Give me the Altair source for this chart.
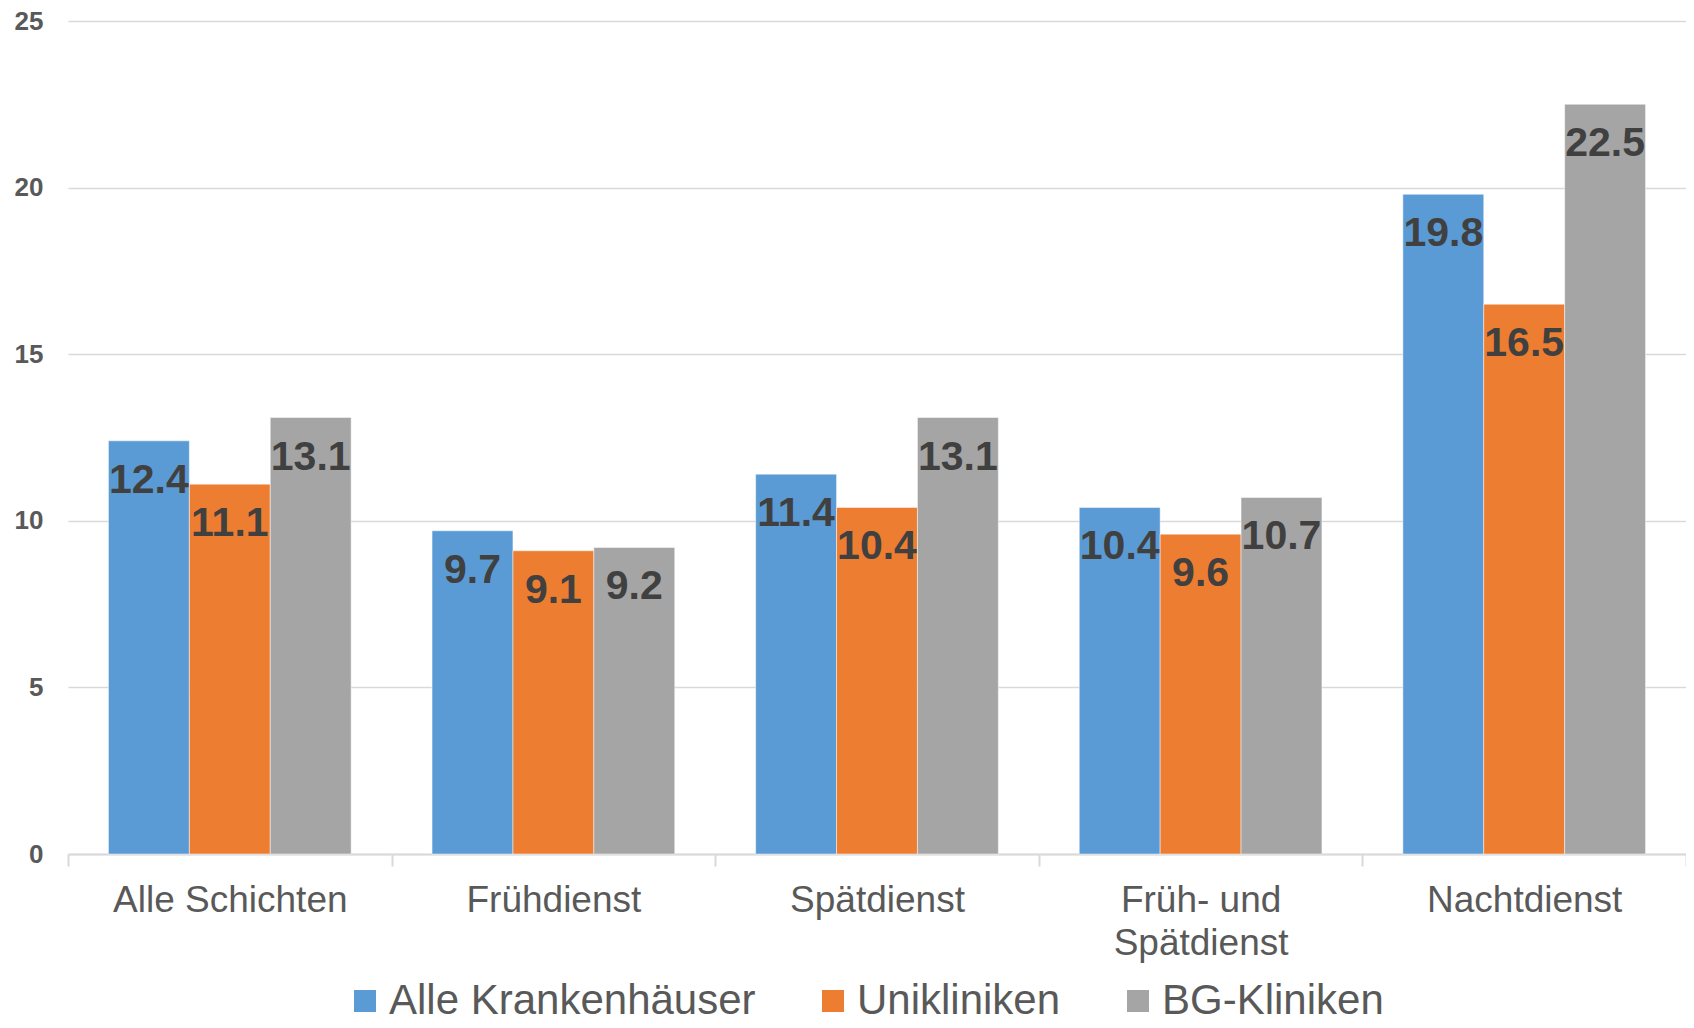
import altair as alt
import pandas as pd

categories = ["Alle Schichten", "Frühdienst", "Spätdienst", "Früh- und|Spätdienst", "Nachtdienst"]
series = ["Alle Krankenhäuser", "Unikliniken", "BG-Kliniken"]
alle = [12.4, 9.7, 11.4, 10.4, 19.8]
uni = [11.1, 9.1, 10.4, 9.6, 16.5]
bg = [13.1, 9.2, 13.1, 10.7, 22.5]
colors = ["#5B9BD5", "#ED7D31", "#A5A5A5"]
y_ticks = [0, 5, 10, 15, 20, 25]

rows = []
for name, vals in zip(series, [alle, uni, bg]):
    for c, v in zip(categories, vals):
        rows.append({"category": c, "series": name, "value": v})
df = pd.DataFrame(rows)

FONT = "Liberation Sans"

base = alt.Chart(df).encode(
    x=alt.X(
        "category:N",
        sort=categories,
        scale=alt.Scale(paddingInner=0, paddingOuter=0),
        axis=alt.Axis(
            title=None,
            labelAngle=0,
            labelFont=FONT,
            labelFontSize=37,
            labelColor="#595959",
            labelPadding=16,
            labelLimit=1000,
            labelExpr="split(datum.label, '|')",
            labelLineHeight=43,
            domain=True,
            domainColor="#D9D9D9",
            domainWidth=2,
            ticks=True,
            tickBand="extent",
            tickSize=12,
            tickColor="#D9D9D9",
            tickWidth=2,
            grid=False,
        ),
    ),
    xOffset=alt.XOffset(
        "series:N", sort=series, scale=alt.Scale(paddingInner=0, paddingOuter=0.5)
    ),
    y=alt.Y(
        "value:Q",
        scale=alt.Scale(domain=[0, 25], nice=False),
        axis=alt.Axis(
            title=None,
            values=y_ticks,
            grid=True,
            gridColor="#D9D9D9",
            gridWidth=1.5,
            domain=False,
            ticks=False,
            labelFont=FONT,
            labelFontSize=26,
            labelFontWeight="bold",
            labelColor="#595959",
            labelPadding=25,
        ),
    ),
)

bars = base.mark_bar(stroke="#ffffff", strokeWidth=0.8, strokeOpacity=0.6).encode(
    color=alt.Color(
        "series:N",
        sort=series,
        scale=alt.Scale(domain=series, range=colors),
        legend=alt.Legend(
            title=None,
            orient="none",
            direction="horizontal",
            legendX=276,
            legendY=959,
            padding=0,
            symbolType="square",
            symbolSize=484,
            symbolStrokeWidth=0,
            labelFont=FONT,
            labelFontSize=42,
            labelColor="#595959",
            labelOffset=3,
            labelLimit=1000,
            columnPadding=56,
        ),
    )
)

labels = base.mark_text(
    baseline="alphabetic",
    dy=52,
    font=FONT,
    fontSize=41,
    fontWeight="bold",
    color="#404040",
).encode(text=alt.Text("value:Q", format=".1f"))

chart = (
    alt.layer(bars, labels)
    .properties(
        width=1618,
        height=833,
        autosize=alt.AutoSizeParams(type="none"),
        padding={"left": 60, "top": 13, "right": 0, "bottom": 162},
    )
    .configure_view(stroke=None)
)

chart.save("out.html", embed_options={"renderer": "svg", "actions": False})
